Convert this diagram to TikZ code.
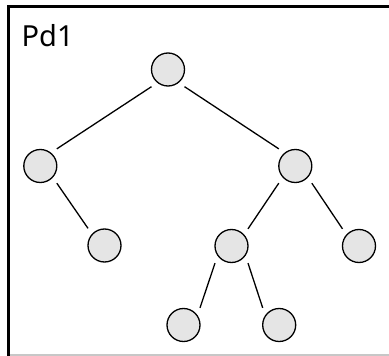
\documentclass[tikz,border=0pt]{standalone}
\usepackage{fontspec}
\setmainfont{Noto Sans}
\begin{document}
\begin{tikzpicture}[x=1pt,y=-1pt,
  tnode/.style={circle,draw=black,fill=black!10,line width=1.3pt,minimum size=33pt,inner sep=0pt},
  edge/.style={line width=1.3pt,draw=black}]
\useasboundingbox (0,0) rectangle (389,356);
\fill[white] (0,0) rectangle (389,356);
% frame
\draw[line width=2pt,draw=black!22] (10,355) -- (389,355);
\draw[line width=3pt,draw=black] (8.8,356) -- (8.8,6.5) -- (389,6.5);
\node[anchor=base west,inner sep=0pt,font=\fontsize{29}{32}\selectfont] (title) at (21.5,46.5) {Pd1};
% nodes
\node[tnode] (r) at (168,69.5) {};
\node[tnode] (a) at (40.3,166) {};
\node[tnode] (b) at (295.3,166) {};
\node[tnode] (c) at (104.5,245.5) {};
\node[tnode] (d) at (231.5,246) {};
\node[tnode] (e) at (359,246) {};
\node[tnode] (f) at (183.5,325) {};
\node[tnode] (g) at (279.2,325) {};
% edges between bounding-box corners
\def\rr{16.5}
\draw[edge] ([xshift=-\rr pt]r.south) -- ([xshift=\rr pt]a.north);
\draw[edge] ([xshift=\rr pt]r.south) -- ([xshift=-\rr pt]b.north);
\draw[edge] ([xshift=\rr pt]a.south) -- ([xshift=-\rr pt]c.north);
\draw[edge] ([xshift=-\rr pt]b.south) -- ([xshift=\rr pt]d.north);
\draw[edge] ([xshift=\rr pt]b.south) -- ([xshift=-\rr pt]e.north);
\draw[edge] ([xshift=-\rr pt]d.south) -- ([xshift=\rr pt]f.north);
\draw[edge] ([xshift=\rr pt]d.south) -- ([xshift=-\rr pt]g.north);
\end{tikzpicture}
\end{document}
